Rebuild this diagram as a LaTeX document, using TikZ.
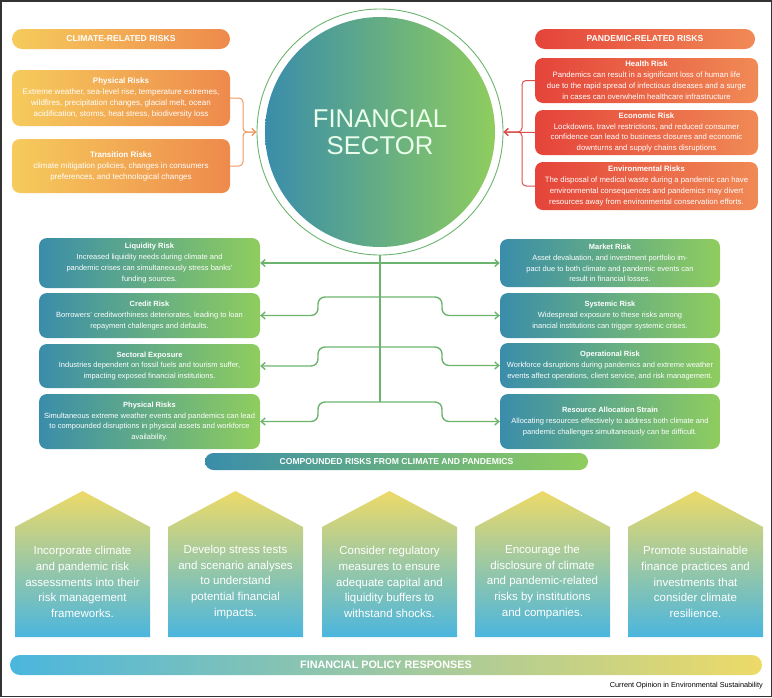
\documentclass[tikz,border=0pt]{standalone}
\usepackage{fontspec}
\setmainfont{Liberation Sans}
\usetikzlibrary{arrows.meta}

\definecolor{climyel}{HTML}{F6CB5C}
\definecolor{climora}{HTML}{EE8A4C}
\definecolor{pandred}{HTML}{E5443A}
\definecolor{pandora}{HTML}{F08A55}
\definecolor{finteal}{HTML}{3A8DAA}
\definecolor{fingrn}{HTML}{8FCD5E}
\definecolor{polyel}{HTML}{EDDA68}
\definecolor{polblu}{HTML}{4BB6DE}
\definecolor{linkgrn}{HTML}{6CB46E}
\definecolor{linkora}{HTML}{EE9A64}
\definecolor{linkred}{HTML}{D8504A}

\tikzset{
  >={Straight Barb[length=4pt,width=7pt]},
  riskbox/.style={rounded corners=8, inner sep=0, align=center, text=white,
    font=\fontsize{7.5}{10.8}\selectfont},
  climbox/.style={riskbox, minimum width=218, left color=climyel, right color=climora,
    font=\fontsize{8}{11}\selectfont},
  pandbox/.style={riskbox, minimum width=223, left color=pandred, right color=pandora,
    font=\fontsize{7.75}{10.9}\selectfont},
  finbox/.style={riskbox, minimum width=221, left color=finteal, right color=fingrn},
  headpill/.style={rounded corners=10, minimum height=20, inner sep=0, text=white,
    font=\bfseries\fontsize{8.6}{10}\selectfont},
  houseshade/.style={top color=polyel, bottom color=polblu},
  housetext/.style={align=center, text=white, font=\fontsize{11.5}{15.7}\selectfont},
  grnlink/.style={linkgrn, line width=1.4, rounded corners=7}
}

\begin{document}
\begin{tikzpicture}[x=1pt,y=-1pt]
  \useasboundingbox (0,0) rectangle (772,697);
  \draw[black!80, line width=1.5] (0.75,0.75) rectangle (771.25,696.25);

  \node[headpill, minimum width=218, left color=climyel, right color=climora] (climhead) at (121,39) {CLIMATE-RELATED RISKS};
  \node[climbox, minimum height=56] (phys) at (121,98) {\textbf{Physical Risks}\\Extreme weather, sea-level rise, temperature extremes,\\wildfires, precipitation changes, glacial melt, ocean\\acidification, storms, heat stress, biodiversity loss};
  \node[climbox, minimum height=54] (trans) at (121,166) {\textbf{Transition Risks}\\climate mitigation policies, changes in consumers\\preferences, and technological changes};

  \node[headpill, minimum width=220, left color=pandred, right color=pandora] (pandhead) at (645,39) {PANDEMIC-RELATED RISKS};
  \node[pandbox, minimum height=45] (health) at (646.5,80.5) {\textbf{Health Risk}\\Pandemics can result in a significant loss of human life\\due to the rapid spread of infectious diseases and a surge\\in cases can overwhelm healthcare infrastructure};
  \node[pandbox, minimum height=45] (econ) at (646.5,132.5) {\textbf{Economic Risk}\\Lockdowns, travel restrictions, and reduced consumer\\confidence can lead to business closures and economic\\downturns and supply chains disruptions};
  \node[pandbox, minimum height=48] (env) at (646.5,186) {\textbf{Environmental Risks}\\The disposal of medical waste during a pandemic can have\\environmental consequences and pandemics may divert\\resources away from environmental conservation efforts.};

  \node[circle, draw=linkgrn, line width=0.9, minimum size=246, inner sep=0] (ring) at (380,132) {};
  \node[circle, minimum size=230, inner sep=0, left color=finteal, right color=fingrn, align=center,
    text=white!92!green, font=\fontsize{25.7}{27}\selectfont] (fs) at (380,132) {FINANCIAL\\SECTOR};

  \draw[linkora, line width=1, rounded corners=4, ->] (phys.east) -- (243,98) -- (243,132) -- (ring.west);
  \draw[linkora, line width=1, rounded corners=4, ->] (trans.east) -- (243,166) -- (243,132) -- (ring.west);
  \draw[linkred, line width=1, rounded corners=4, ->] (health.west) -- (522,80.5) -- (522,132) -- (ring.east);
  \draw[linkred, line width=1, rounded corners=4, ->] (env.west) -- (522,186) -- (522,132) -- (ring.east);
  \draw[linkred, line width=1, ->] (econ.west) -- (ring.east);

  \node[finbox, minimum height=50] (liq) at (149.5,263) {\textbf{Liquidity Risk}\\Increased liquidity needs during climate and\\pandemic crises can simultaneously stress banks'\\funding sources.};
  \node[finbox, minimum height=45] (cred) at (149.5,315.5) {\textbf{Credit Risk}\\Borrowers' creditworthiness deteriorates, leading to loan\\repayment challenges and defaults.};
  \node[finbox, minimum height=44] (sect) at (149.5,366) {\textbf{Sectoral Exposure}\\Industries dependent on fossil fuels and tourism suffer,\\impacting exposed financial institutions.};
  \node[finbox, minimum height=55] (physc) at (149.5,421.5) {\textbf{Physical Risks}\\Simultaneous extreme weather events and pandemics can lead\\to compounded disruptions in physical assets and workforce\\availability.};

  \node[finbox, minimum width=220, minimum height=48] (mkt) at (610,263) {\textbf{Market Risk}\\Asset devaluation, and investment portfolio im-\\pact due to both climate and pandemic events can\\result in financial losses.};
  \node[finbox, minimum width=220, minimum height=45] (sys) at (610,315.5) {\textbf{Systemic Risk}\\Widespread exposure to these risks among\\inancial institutions can trigger systemic crises.};
  \node[finbox, minimum width=220, minimum height=45] (oper) at (610,365.5) {\textbf{Operational Risk}\\Workforce disruptions during pandemics and extreme weather\\events affect operations, client service, and risk management.};
  \node[finbox, minimum width=220, minimum height=55] (res) at (610,421.5) {\textbf{Resource Allocation Strain}\\Allocating resources effectively to address both climate and\\pandemic challenges simultaneously can be difficult.};

  \draw[grnlink] (ring.south) -- (380,402);
  \draw[grnlink, <->] (liq.east) -- (mkt.west);
  \draw[grnlink, <->] (cred.east) -- (318,315.5) -- (318,297) -- (442,297) -- (442,315.5) -- (sys.west);
  \draw[grnlink, <->] (sect.east) -- (318,366) -- (318,347) -- (442,347) -- (442,365.5) -- (oper.west);
  \draw[grnlink, <->] (physc.east) -- (318,421.5) -- (318,402) -- (442,402) -- (442,421.5) -- (res.west);

  \node[headpill, rounded corners=8.5, minimum width=383, minimum height=17, left color=finteal, right color=fingrn] (comp) at (396.5,461.5) {COMPOUNDED RISKS FROM CLIMATE AND PANDEMICS};

  \shade[houseshade] (15,637) -- (15,527) -- (82.5,491) -- (150,527) -- (150,637) -- cycle;
  \shade[houseshade] (168,637) -- (168,527) -- (235.5,491) -- (303,527) -- (303,637) -- cycle;
  \shade[houseshade] (322,637) -- (322,527) -- (389.5,491) -- (457,527) -- (457,637) -- cycle;
  \shade[houseshade] (475,637) -- (475,527) -- (542.5,491) -- (610,527) -- (610,637) -- cycle;
  \shade[houseshade] (628,637) -- (628,527) -- (695.5,491) -- (763,527) -- (763,637) -- cycle;
  \node[housetext] (pol1) at (82.5,582) {Incorporate climate\\and pandemic risk\\assessments into their\\risk management\\frameworks.};
  \node[housetext] (pol2) at (235.5,582) {Develop stress tests\\and scenario analyses\\to understand\\potential financial\\impacts.};
  \node[housetext] (pol3) at (389.5,582) {Consider regulatory\\measures to ensure\\adequate capital and\\liquidity buffers to\\withstand shocks.};
  \node[housetext] (pol4) at (542.5,582) {Encourage the\\disclosure of climate\\and pandemic-related\\risks by institutions\\and companies.};
  \node[housetext] (pol5) at (695.5,582) {Promote sustainable\\finance practices and\\investments that\\consider climate\\resilience.};

  \node[headpill, minimum width=752, left color=polblu, right color=polyel, font=\bfseries\fontsize{10.8}{12}\selectfont] (polbar) at (386,665) {FINANCIAL POLICY RESPONSES};
  \node[anchor=east, inner sep=0, font=\fontsize{7.3}{9}\selectfont] (journal) at (763,686) {Current Opinion in Environmental Sustainability};
\end{tikzpicture}
\end{document}
